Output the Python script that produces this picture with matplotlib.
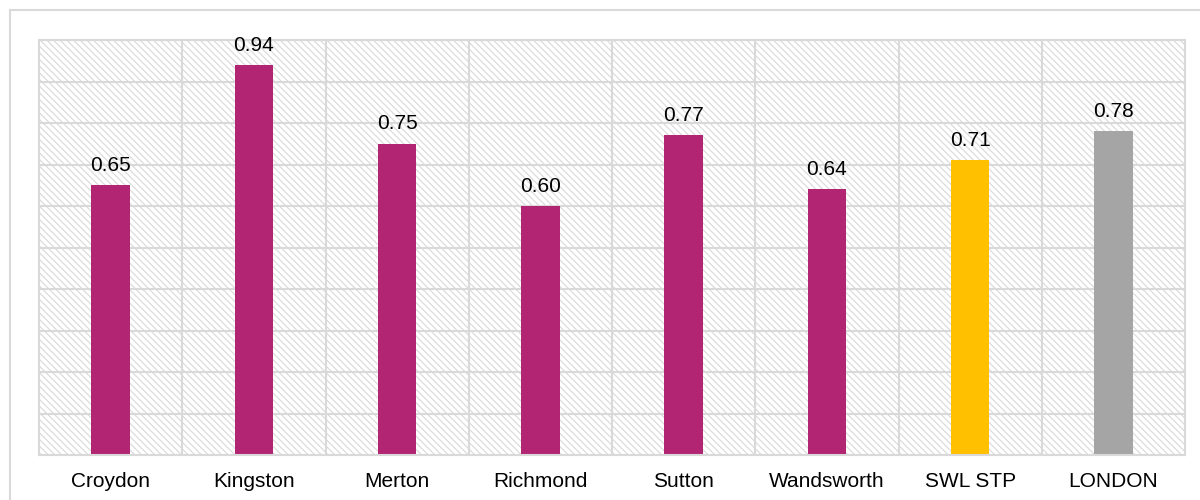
import numpy as np
import matplotlib.pyplot as plt
from matplotlib.patches import Rectangle

plt.rcParams['font.family'] = ['Liberation Sans', 'DejaVu Sans']
plt.rcParams['hatch.linewidth'] = 0.9

areas = ['Croydon', 'Kingston', 'Merton', 'Richmond', 'Sutton', 'Wandsworth', 'SWL STP', 'LONDON']
values = [0.65, 0.94, 0.75, 0.60, 0.77, 0.64, 0.71, 0.78]
colours = ['#b22573'] * 6 + ['#ffc000', '#a5a5a5']

fig = plt.figure(figsize=(12, 5), dpi=100)
# outer chart frame (runs off the right/bottom edge like the original)
fig.patches.append(Rectangle((10 / 1200, -0.05), 1.1, 1.05 - 10 / 500, transform=fig.transFigure,
                             fill=False, edgecolor='#d9d9d9', lw=1.5))
ax = fig.add_axes([39 / 1200, 45 / 500, 1146 / 1200, 415 / 500])

x = np.arange(len(areas))
ax.set_xlim(-0.5, len(areas) - 0.5)
ax.set_ylim(0, 1.0)

# hatched plot background
ax.add_patch(Rectangle((0, 0), 1, 1, transform=ax.transAxes, facecolor='white',
                       edgecolor='#dcdcdc', hatch='\\' * 5, lw=0, zorder=0))

for yv in np.arange(0.1, 1.01, 0.1):
    ax.axhline(yv, color='#d9d9d9', lw=1.5, zorder=1)
for xv in np.arange(0.5, len(areas) - 1, 1):
    ax.axvline(xv, color='#d9d9d9', lw=1.5, zorder=1)

ax.bar(x, values, width=0.27, color=colours, zorder=2)
for xi, v in zip(x, values):
    ax.text(xi, v + 0.025, f'{v:.2f}', ha='center', va='bottom', fontsize=15, zorder=3)

ax.set_xticks(x)
ax.set_xticklabels(areas, fontsize=15)
ax.tick_params(axis='x', length=0, pad=12)
ax.set_yticks([])
for s in ax.spines.values():
    s.set_color('#d9d9d9')
    s.set_linewidth(1.5)

fig.savefig('out.png', dpi=100)
